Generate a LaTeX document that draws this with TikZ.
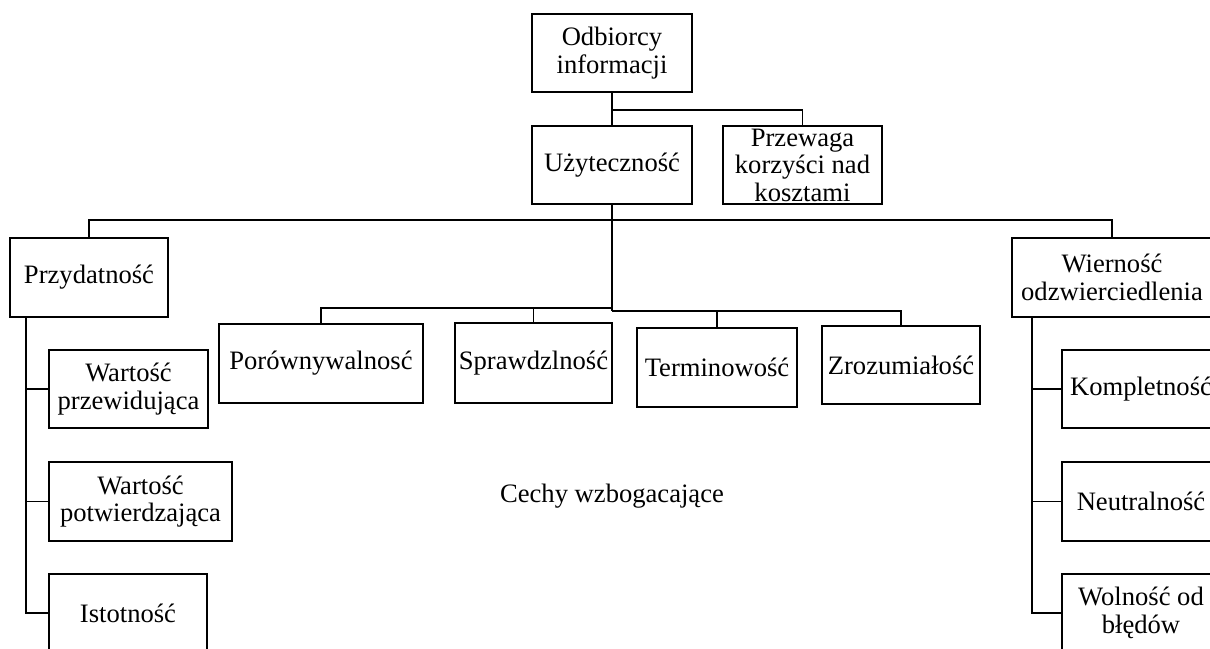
\documentclass[tikz,border=0pt]{standalone}
\usepackage{fontspec}
\setmainfont{Liberation Serif}
\begin{document}
\begin{tikzpicture}[x=1pt,y=-1pt,
  box/.style={draw, line width=1.9pt, inner sep=0pt, outer sep=0pt, align=center,
    font=\fontsize{26.6}{27.5}\selectfont, minimum height=78pt},
  wire/.style={line width=1.9pt},
  trunk/.style={line width=2.8pt},
  label/.style={font=\fontsize{26.6}{27.5}\selectfont}]
\useasboundingbox (0,0) rectangle (1210,648);
\clip (0,0) rectangle (1210,648);

% top levels
\node[box, minimum width=160pt] (odb) at (612,53) {Odbiorcy\\informacji};
\node[box, minimum width=160pt] (uzy) at (612,165) {Użyteczność};
\node[box, minimum width=159pt] (prz) at (802.5,165) {Przewaga\\korzyści nad\\kosztami};

% fundamental characteristics
\node[box, minimum width=158pt, minimum height=79pt] (przyd) at (89,277.5) {Przydatność};
\node[box, minimum width=200pt, minimum height=79pt] (wier) at (1112,277.5) {Wierność\\odzwierciedlenia};

% enhancing characteristics
\node[box, minimum width=204pt, minimum height=79pt] (por) at (321,363.5) {Porównywalnosć};
\node[box, minimum width=157pt, minimum height=80pt] (spr) at (533.5,363) {Sprawdzlność};
\node[box, minimum width=160pt, minimum height=79pt] (ter) at (717,367.5) {Terminowość};
\node[box, minimum width=158pt] (zro) at (901,365) {Zrozumiałość};

% relevance components
\node[box, minimum width=159pt] (wp) at (128.5,389) {Wartość\\przewidująca};
\node[box, minimum width=183pt, minimum height=79pt] (wpot) at (140.5,501.5) {Wartość\\potwierdzająca};
\node[box, minimum width=158pt] (ist) at (128,613) {Istotność};

% faithful representation components
\node[box, minimum width=158pt] (komp) at (1141,389) {Kompletność};
\node[box, minimum width=158pt, minimum height=79pt] (neut) at (1141,501.5) {Neutralność};
\node[box, minimum width=158pt] (wol) at (1141,613) {Wolność od\\błędów};

\node[label] (cechy) at (612,496) {Cechy wzbogacające};

% junction points
\coordinate (jT) at (612,110);
\coordinate (jM) at (612,220);
\coordinate (jL) at (612,308);
\coordinate (jR) at (612,311);
\coordinate (lt) at (26,317);
\coordinate (rt) at (1032,317);

% connectors
\draw[wire] (odb.south) -- (uzy.north);
\draw[wire] (jT) -| (prz.north);
\draw[trunk] (uzy.south) -- (jR);
\draw[wire] (przyd.north) |- (jM) -| (wier.north);
\draw[wire] (por.north) |- (jL);
\draw[wire] (spr.north) -- (spr.north |- jL);
\draw[wire] (jR) -| (zro.north);
\draw[wire] (ter.north) -- (ter.north |- jR);

\draw[wire] (lt) |- (ist.west);
\draw[wire] (lt |- wp.west) -- (wp.west);
\draw[wire] (lt |- wpot.west) -- (wpot.west);

\draw[wire] (rt) |- (wol.west);
\draw[wire] (rt |- komp.west) -- (komp.west);
\draw[wire] (rt |- neut.west) -- (neut.west);
\end{tikzpicture}
\end{document}
